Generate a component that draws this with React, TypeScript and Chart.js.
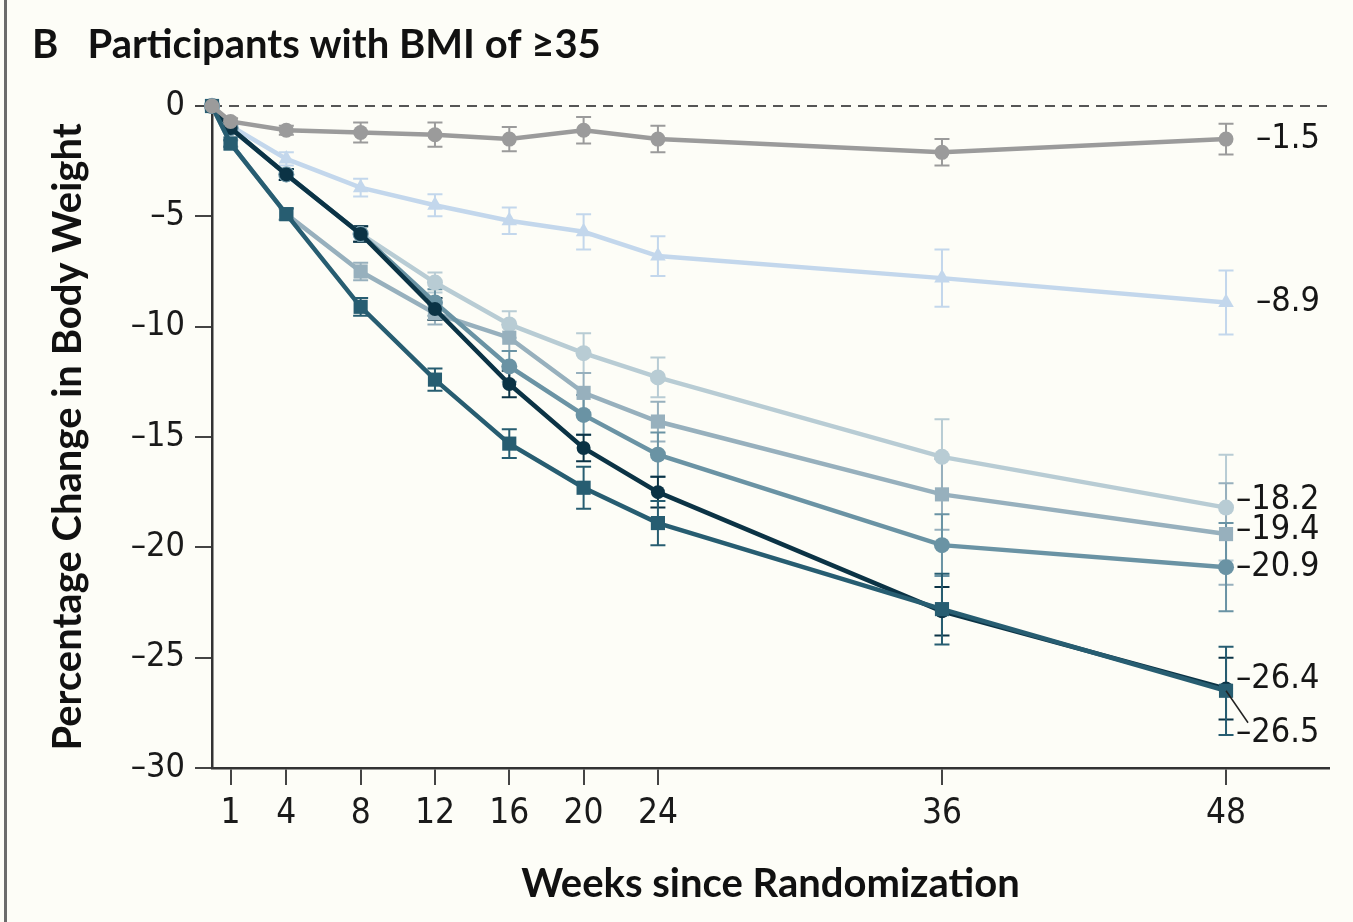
import React, { useEffect, useRef } from 'react';
import { Chart, registerables, LinearScale } from 'chart.js';

Chart.register(...registerables);

// ---------- data ----------
const weeks = [0, 1, 4, 8, 12, 16, 20, 24, 36, 48];
const xTickWeeks = [1, 4, 8, 12, 16, 20, 24, 36, 48];

const seriesNames = ['Placebo', 'Series 2', 'Series 3', 'Series 4', 'Series 5', 'Series 6', 'Series 7'];
const placebo = [0, -0.7, -1.1, -1.2, -1.3, -1.5, -1.1, -1.5, -2.1, -1.5];
const s2 = [0, -0.9, -2.4, -3.7, -4.5, -5.2, -5.7, -6.8, -7.8, -8.9];
const s3 = [0, -1.0, -3.1, -5.8, -8.0, -9.9, -11.2, -12.3, -15.9, -18.2];
const s4 = [0, -1.7, -4.9, -7.5, -9.4, -10.5, -13.0, -14.3, -17.6, -19.4];
const s5 = [0, -1.0, -3.1, -5.8, -8.9, -11.8, -14.0, -15.8, -19.9, -20.9];
const s6 = [0, -1.0, -3.1, -5.8, -9.2, -12.6, -15.5, -17.5, -22.9, -26.4];
const s7 = [0, -1.7, -4.9, -9.1, -12.4, -15.3, -17.3, -18.9, -22.8, -26.5];

const placeboErr = [0, 0.15, 0.2, 0.45, 0.55, 0.55, 0.6, 0.6, 0.6, 0.7];
const s2Err = [0, 0.15, 0.3, 0.4, 0.5, 0.6, 0.8, 0.9, 1.3, 1.45];
const s3Err = [0, 0.15, 0.25, 0.35, 0.45, 0.6, 0.9, 0.9, 1.7, 2.4];
const s4Err = [0, 0.15, 0.25, 0.4, 0.5, 0.6, 0.9, 0.9, 1.6, 2.3];
const s5Err = [0, 0.15, 0.25, 0.35, 0.6, 0.7, 0.9, 1.0, 1.4, 2.0];
const s6Err = [0, 0.15, 0.25, 0.35, 0.5, 0.6, 0.6, 0.7, 1.1, 1.4];
const s7Err = [0, 0.15, 0.25, 0.4, 0.5, 0.65, 0.95, 1.0, 1.6, 2.0];

const allValues = [placebo, s2, s3, s4, s5, s6, s7];
const allErrors = [placeboErr, s2Err, s3Err, s4Err, s5Err, s6Err, s7Err];

// ---------- styles ----------
const colors = ['#9b9b9b', '#c3d7ec', '#b8ccd4', '#97b0bd', '#6a93a4', '#0b3345', '#275d71'];
const pointStyles = ['circle', 'triangle', 'circle', 'rect', 'circle', 'circle', 'rect'];
const pointRadii = [7.5, 9, 8, 10, 8, 7, 10];
const drawOrder = [0, 6, 5, 4, 3, 2, 1];
// end-label nudges in pixels: [dx, dy]
const labelNudge: [number, number][] = [[30, 0], [30, 0], [10, -7], [10, -4], [10, 0], [10, -9], [10, 42]];

const TITLE_FONT = "Lato, 'Open Sans', sans-serif";
const NUM_FONT = "'DejaVu Sans Condensed', 'Liberation Sans Narrow', 'DejaVu Sans', sans-serif";
const BG = '#fdfdf7';

// ---------- piecewise x scale (weeks 24-48 stretched as in the figure) ----------
const WARP_BREAK = 24;
const WARP_FACTOR = 1.274;
const warp = (v: number) => (v <= WARP_BREAK ? v : WARP_BREAK + (v - WARP_BREAK) * WARP_FACTOR);
const unwarp = (w: number) => (w <= WARP_BREAK ? w : WARP_BREAK + (w - WARP_BREAK) / WARP_FACTOR);

class WarpScale extends LinearScale {
  static id = 'warp';
  static defaults = {};
  getPixelForValue(value: any) {
    if (value === null || value === undefined || isNaN(value)) return NaN;
    const a = warp(this.min);
    const b = warp(this.max);
    return this.getPixelForDecimal((warp(value) - a) / (b - a));
  }
  getValueForPixel(pixel: number) {
    const a = warp(this.min);
    const b = warp(this.max);
    return unwarp(a + this.getDecimalForPixel(pixel) * (b - a));
  }
}
Chart.register(WarpScale as any);

const fmt = (v: number) => (v === 0 ? '0' : '\u2013' + Math.abs(v).toFixed(Number.isInteger(v) ? 0 : 1));

const decorPlugin = {
  id: 'decor',
  beforeDatasetsDraw(chart: any) {
    const { ctx, chartArea, scales } = chart;
    const y0 = scales.y.getPixelForValue(0);
    ctx.save();
    ctx.strokeStyle = '#555';
    ctx.lineWidth = 2;
    ctx.setLineDash([10, 7]);
    ctx.beginPath();
    ctx.moveTo(chartArea.left, y0);
    ctx.lineTo(chartArea.right, y0);
    ctx.stroke();
    ctx.setLineDash([]);
    // error bars
    allValues.forEach((vals, di) => {
      const errs = allErrors[di];
      const meta = chart.getDatasetMeta(di);
      ctx.strokeStyle = colors[di];
      ctx.lineWidth = 2;
      meta.data.forEach((pt: any, i: number) => {
        const e = errs[i];
        if (!e) return;
        const yt = scales.y.getPixelForValue(vals[i] + e);
        const yb = scales.y.getPixelForValue(vals[i] - e);
        const x = pt.x;
        ctx.beginPath();
        ctx.moveTo(x, yt);
        ctx.lineTo(x, yb);
        ctx.moveTo(x - 7.5, yt);
        ctx.lineTo(x + 7.5, yt);
        ctx.moveTo(x - 7.5, yb);
        ctx.lineTo(x + 7.5, yb);
        ctx.stroke();
      });
    });
    ctx.restore();
  },
  afterDatasetsDraw(chart: any) {
    const { ctx, scales } = chart;
    ctx.save();
    ctx.font = `34px ${NUM_FONT}`;
    ctx.fillStyle = '#161616';
    ctx.textAlign = 'left';
    ctx.textBaseline = 'middle';
    allValues.forEach((vals, di) => {
      const last = vals.length - 1;
      const x = scales.x.getPixelForValue(weeks[last]);
      const y = scales.y.getPixelForValue(vals[last]);
      const [dx, dy] = labelNudge[di];
      if (Math.abs(dy) > 20) {
        ctx.strokeStyle = '#222';
        ctx.lineWidth = 1.5;
        ctx.beginPath();
        ctx.moveTo(x, y);
        ctx.lineTo(x + dx + 12, y + dy - 10);
        ctx.stroke();
      }
      ctx.fillText(fmt(vals[last]), x + dx, y + dy);
    });
    ctx.restore();
  },
};

export default function App() {
  const ref = useRef<HTMLCanvasElement>(null);
  useEffect(() => {
    if (!ref.current) return;
    const datasets = allValues.map((vals, di) => ({
      label: seriesNames[di],
      data: weeks.map((w, i) => ({ x: w, y: vals[i] })),
      borderColor: colors[di],
      backgroundColor: colors[di],
      borderWidth: 4.5,
      pointStyle: pointStyles[di],
      pointRadius: pointRadii[di],
      pointBackgroundColor: colors[di],
      pointBorderColor: colors[di],
      pointBorderWidth: 0,
      tension: 0,
      order: drawOrder[di],
      clip: false as any,
    }));
    const chart = new Chart(ref.current, {
      type: 'line',
      data: { datasets },
      plugins: [decorPlugin],
      options: {
        animation: false,
        responsive: false,
        devicePixelRatio: 1,
        layout: { padding: { left: 32, right: 24, top: 0, bottom: 0 } },
        plugins: {
          legend: { display: false },
          tooltip: { enabled: false },
          title: {
            display: true,
            text: 'B   Participants with BMI of \u226535',
            align: 'start',
            color: '#111',
            font: { family: TITLE_FONT, size: 40, weight: 'bold', lineHeight: 1.2 },
            padding: { top: 21, bottom: 37 },
          },
        },
        scales: {
          x: {
            type: 'warp' as any,
            min: 0,
            max: 52.35,
            afterFit: (s: any) => { s.height = 154; },
            afterBuildTicks: (s: any) => { s.ticks = xTickWeeks.map((v) => ({ value: v })); },
            ticks: {
              autoSkip: false,
              maxRotation: 0,
              padding: 8,
              color: '#1a1a1a',
              font: { family: NUM_FONT, size: 35 },
              callback: (v: any) => String(v),
            },
            grid: { display: true, drawOnChartArea: false, drawTicks: true, tickLength: 17, color: '#444', lineWidth: 2 },
            border: { display: true, color: '#333', width: 2.5 },
            title: {
              display: true,
              text: 'Weeks since Randomization',
              color: '#111',
              font: { family: TITLE_FONT, size: 40, weight: 'bold', lineHeight: 1.2 },
              padding: { top: 0, bottom: 14 },
            },
          },
          y: {
            min: -30,
            max: 0,
            afterFit: (s: any) => { s.width = 180; },
            ticks: {
              stepSize: 5,
              padding: 10,
              color: '#1a1a1a',
              font: { family: NUM_FONT, size: 34 },
              callback: (v: any) => fmt(Number(v)),
            },
            grid: { display: true, drawOnChartArea: false, drawTicks: true, tickLength: 17, color: '#444', lineWidth: 2 },
            border: { display: true, color: '#333', width: 2.5 },
            title: {
              display: true,
              text: 'Percentage Change in Body Weight',
              color: '#111',
              font: { family: TITLE_FONT, size: 40, weight: 'bold', lineHeight: 1.2 },
              padding: { top: 12, bottom: 0 },
            },
          },
        },
      } as any,
    });
    return () => chart.destroy();
  }, []);

  return (
    <div style={{ position: 'fixed', left: 0, top: 0, width: 1353, height: 922, background: BG, overflow: 'hidden' }}>
      <div style={{ position: 'absolute', left: 4, top: 0, width: 3, height: 922, background: '#6b6b6b' }} />
      <canvas ref={ref} width={1353} height={922} style={{ position: 'absolute', left: 0, top: 0, display: 'block' }} />
    </div>
  );
}
